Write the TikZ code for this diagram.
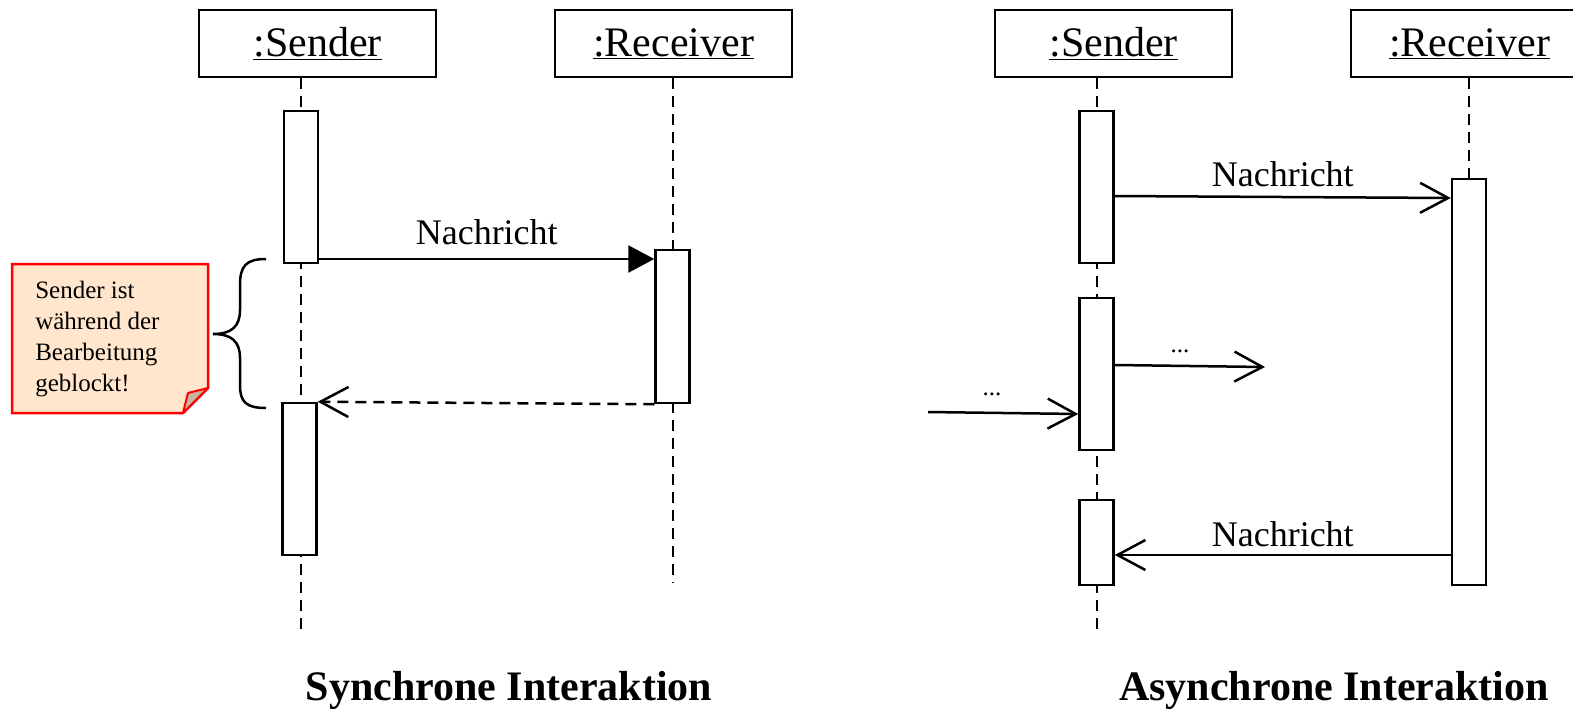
\documentclass[tikz,border=0pt]{standalone}
\usepackage{fontspec}
\setmainfont{Liberation Serif}
\usetikzlibrary{arrows.meta}
\definecolor{notefill}{HTML}{FFE6CC}
\definecolor{noteedge}{HTML}{FF0000}
\definecolor{foldfill}{HTML}{C8B4A0}

\begin{document}
\begin{tikzpicture}[x=1pt,y=-1pt,line width=2.5pt,
  header/.style={draw, fill=white, minimum width=237pt, minimum height=67pt,
    inner sep=0pt, font=\fontsize{42}{50}\selectfont},
  act/.style={draw, fill=white, minimum width=34pt, inner sep=0pt},
  life/.style={dash pattern=on 11pt off 7pt},
  msg/.style={-{Straight Barb[length=28pt,width=30pt,line width=2.5pt]}},
  sync/.style={-{Triangle[length=26pt,width=27pt]}},
  lbl/.style={inner sep=0pt, font=\fontsize{36}{40}\selectfont},
  dots/.style={inner sep=0pt, font=\fontsize{25}{30}\selectfont},
  title/.style={inner sep=0pt, font=\fontsize{42}{50}\selectfont\bfseries}]

\clip (0,0) rectangle (1573,715);

% ---------------- synchronous interaction ----------------
\node[header] (hs) at (317.5,43.5) {\raisebox{-3pt}{\underline{:Sender}}};
\node[header] (hr) at (673.5,43.5) {\raisebox{-3pt}{\underline{:Receiver}}};
\coordinate (hsend) at (301,635);
\coordinate (hrend) at (673,583);
\draw[life] (hsend |- hs.south) -- (hsend);
\draw[life] (hrend |- hr.south) -- (hrend);

\node[act, minimum height=152pt] (s1) at (301,187) {};
\node[act, minimum height=152pt] (s2) at (299.5,479) {};
\node[act, minimum height=153pt] (r1) at (672.5,326.5) {};

\draw[sync] (s1.east |- 0,259) -- (r1.west |- 0,259)
  node[lbl, midway, above=13pt] {Nachricht};
\draw[msg, life] (r1.south west) -- (s2.north east);

% brace spanning the blocked interval
\draw (266,259) .. controls (246,259) and (240,266) .. (240,285) -- (240,310)
  .. controls (240,327) and (231,334) .. (213,334)
  .. controls (231,334) and (240,341) .. (240,358) -- (240,385)
  .. controls (240,402) and (246,408) .. (266,408);

% note with folded corner
\draw[noteedge, fill=notefill, line width=2.5pt, line join=miter]
  (12,264) -- (208,264) -- (208,388) -- (183,413) -- (12,413) -- cycle;
\draw[noteedge, fill=foldfill, line width=2pt, line join=round]
  (183,413) -- (188,393) -- (208,388) -- cycle;
\node[inner sep=0pt, anchor=west, align=left, font=\fontsize{25}{31}\selectfont]
  (notetext) at (34,339) {Sender ist\\während der\\Bearbeitung\\geblockt!};

\node[title] (t1) at (509,690) {Synchrone Interaktion};

% ---------------- asynchronous interaction ----------------
\node[header] (as) at (1113.5,43.5) {\raisebox{-3pt}{\underline{:Sender}}};
\node[header] (ar) at (1469.5,43.5) {\raisebox{-3pt}{\underline{:Receiver}}};
\coordinate (asend) at (1097,635);
\draw[life] (asend |- as.south) -- (asend);

\node[act, minimum height=406pt] (ra) at (1469,382) {};
\draw[life] (ra.north |- ar.south) -- (ra.north);

\node[act, minimum height=152pt] (a1) at (1096.5,187) {};
\node[act, minimum height=152pt] (a2) at (1096.5,374) {};
\node[act, minimum height=85pt] (a3) at (1096.5,542.5) {};

\draw[msg] (a1.east |- 0,196) -- (ra.west |- 0,198)
  node[lbl, midway, above=9pt] {Nachricht};

\coordinate (out) at (1265,367);
\draw[msg] (a2.east |- 0,365) -- (out);
\node[dots] (d1) at (1180,351) {...};

\coordinate (in) at (928,412);
\draw[msg] (in) -- (a2.west |- 0,414);
\node[dots] (d2) at (992,394) {...};

\draw[msg] (ra.west |- 0,555) -- (a3.east |- 0,555)
  node[lbl, midway, above=7pt] {Nachricht};

\node[title] (t2) at (1334,690) {Asynchrone Interaktion};
\end{tikzpicture}
\end{document}
